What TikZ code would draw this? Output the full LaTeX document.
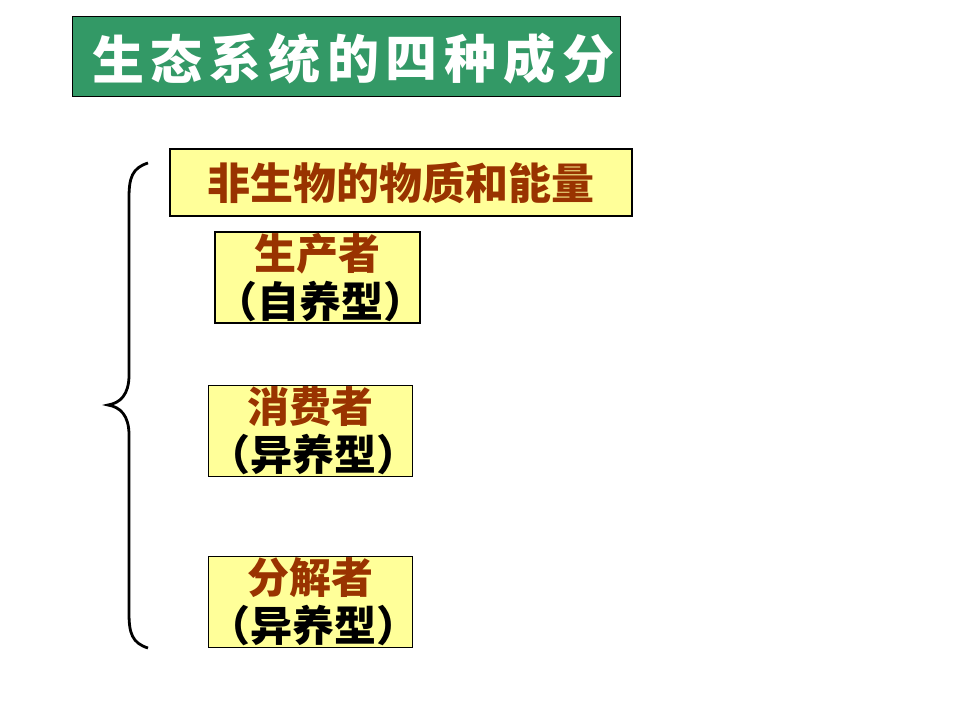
\documentclass[tikz,border=0pt]{standalone}
\usepackage{fontspec}
\newfontfamily\cjk{Noto Sans CJK SC}
\definecolor{titlegreen}{HTML}{339966}
\definecolor{boxyellow}{HTML}{FFFF99}
\definecolor{textbrown}{HTML}{993300}
\tikzset{
  partbox/.style={draw=black, fill=boxyellow, inner sep=0pt, align=center,
    text width=204pt, minimum width=204pt, minimum height=91pt,
    font=\cjk\bfseries\fontsize{42}{48}\selectfont},
  heavyline/.style={line width=2.8pt},
  thinline/.style={line width=0.8pt}
}
\begin{document}
\begin{tikzpicture}[x=1pt,y=-1pt]

    % --- 1. Canvas ---
    \useasboundingbox (0,0) rectangle (960,720);

    % --- 2. Title bar ---
    \node[draw=black, thinline, fill=titlegreen, minimum width=548pt, minimum height=80pt,
          inner sep=0pt] (title) at (346,56) {};
    \foreach \ch [count=\i from 0] in {生,态,系,统,的,四,种,成,分}
        \node[text=white, font=\cjk\bfseries\fontsize{52}{52}\selectfont, inner sep=0pt]
            (t\i) at (118+58.75*\i,59) {\ch};

    % --- 3. The four parts ---
    \node[partbox, heavyline, text width=462pt, minimum width=462pt, minimum height=67pt,
          font=\cjk\bfseries\fontsize{43}{43}\selectfont, text=textbrown]
        (abiotic) at (401,182.5) {非生物的物质和能量};
    \node[partbox, heavyline, text width=205pt, minimum width=205pt]
        (producer) at (317.5,277.5) {{\color{textbrown}生产者}\\（自养型）};
    \node[partbox, thinline]
        (consumer) at (310,430.5) {{\color{textbrown}消费者}\\（异养型）};
    \node[partbox, thinline]
        (decomposer) at (310,601.5) {{\color{textbrown}分解者}\\（异养型）};

    % --- 4. Brace ---
    \coordinate (top) at (148,163);
    \coordinate (tip) at (108,405);
    \coordinate (bottom) at (148,648);
    \draw[heavyline] (top) .. controls (132,168) and (129,178) .. (129,198)
        -- (129,375) .. controls (129,395) and (120,403) .. (tip)
        .. controls (120,407) and (129,415) .. (129,435)
        -- (129,613) .. controls (129,633) and (132,643) .. (bottom);

\end{tikzpicture}
\end{document}
